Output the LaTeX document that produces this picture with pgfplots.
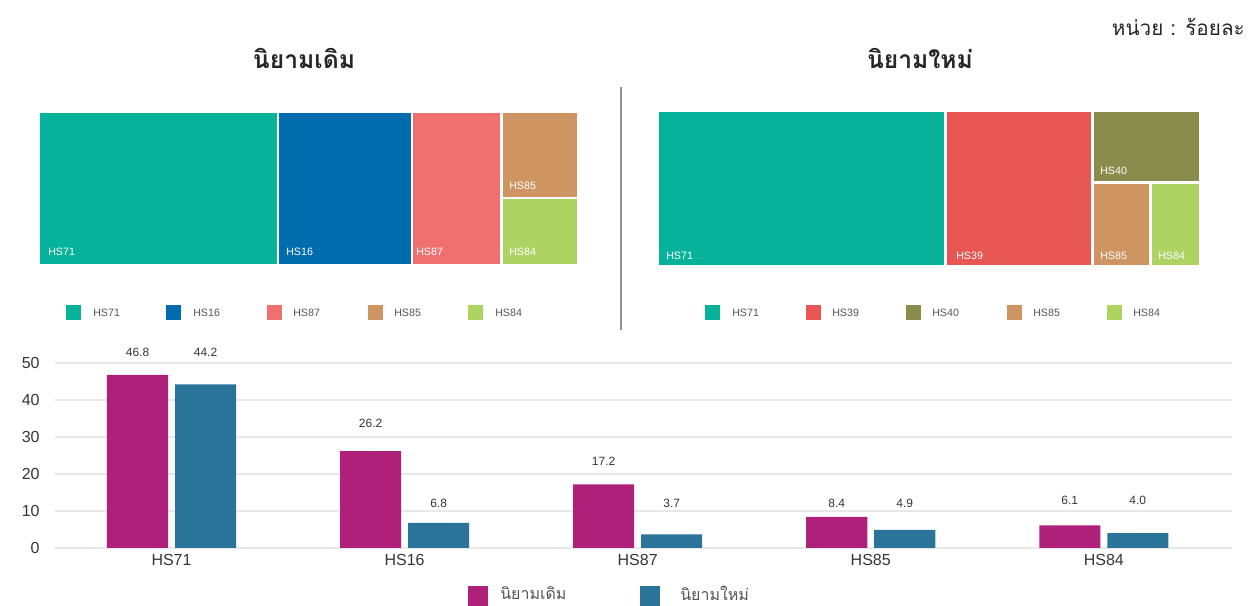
\documentclass[border=0pt]{standalone}
\usepackage{fontspec}
\setmainfont{Liberation Sans}
\newfontfamily\thaifont[Script=Thai]{Loma}
\usepackage{pgfplots}
\usepackage{pgfplotstable}
\pgfplotsset{compat=1.18}
\definecolor{cTeal}{HTML}{06B39A}
\definecolor{cBlue}{HTML}{006BAD}
\definecolor{cPink}{HTML}{F07070}
\definecolor{cTan}{HTML}{CE9563}
\definecolor{cLime}{HTML}{ADD363}
\definecolor{cRed}{HTML}{E85654}
\definecolor{cOlive}{HTML}{8A8C4C}
\definecolor{cMag}{HTML}{AE2079}
\definecolor{cSteel}{HTML}{2A7399}
\definecolor{gridc}{HTML}{E8E8E8}
\definecolor{txt}{HTML}{353535}
\definecolor{ltxt}{HTML}{555555}

% bar data: x, old-definition value, new-definition value, label heights (axis units)
\pgfplotstableread{
x old new lo ln
0 46.8 44.2 52.97 52.97
1 26.2 6.8 33.78 12.16
2 17.2 3.7 23.50 12.16
3 8.4 4.9 12.16 12.16
4 6.1 4.0 12.97 12.97
}\bardata

\begin{document}
\begin{tikzpicture}
% ---------- canvas (treemaps, titles, legends) in pixel units ----------
\begin{axis}[name=canvas, at={(0,0)}, anchor=south west, scale only axis,
  width=943.5pt, height=454.5pt, xmin=0, xmax=1258, ymin=0, ymax=606,
  y dir=reverse, hide axis, clip=false]
% left treemap
\addplot[draw=none, fill=cTeal, forget plot] coordinates {(40,113) (277,113) (277,264) (40,264)};
\addplot[draw=none, fill=cBlue, forget plot] coordinates {(279,113) (411,113) (411,264) (279,264)};
\addplot[draw=none, fill=cPink, forget plot] coordinates {(413,113) (500,113) (500,264) (413,264)};
\addplot[draw=none, fill=cTan, forget plot] coordinates {(503,113) (577,113) (577,197) (503,197)};
\addplot[draw=none, fill=cLime, forget plot] coordinates {(503,199) (577,199) (577,264) (503,264)};
% right treemap
\addplot[draw=none, fill=cTeal, forget plot] coordinates {(659,112) (944,112) (944,265) (659,265)};
\addplot[draw=none, fill=cRed, forget plot] coordinates {(947,112) (1091,112) (1091,265) (947,265)};
\addplot[draw=none, fill=cOlive, forget plot] coordinates {(1094,112) (1199,112) (1199,181) (1094,181)};
\addplot[draw=none, fill=cTan, forget plot] coordinates {(1094,184) (1149,184) (1149,265) (1094,265)};
\addplot[draw=none, fill=cLime, forget plot] coordinates {(1152,184) (1199,184) (1199,265) (1152,265)};
% divider
\addplot[color=gray!85, line width=0.9pt, forget plot] coordinates {(621,87) (621,330)};
% treemap labels
\begin{scope}[every node/.style={anchor=base west, text=white, font=\fontsize{8}{9}\selectfont, inner sep=0pt}]
\node at (axis cs:48,256) {HS71};
\node at (axis cs:286,256) {HS16};
\node at (axis cs:416,256) {HS87};
\node at (axis cs:509,190) {HS85};
\node at (axis cs:509,256) {HS84};
\node at (axis cs:666,260) {HS71};
\node at (axis cs:956,260) {HS39};
\node at (axis cs:1100,175) {HS40};
\node at (axis cs:1100,260) {HS85};
\node at (axis cs:1158,260) {HS84};
\end{scope}
% treemap legends
\addplot[draw=none, fill=cTeal, forget plot] coordinates {(66,305) (81,305) (81,320) (66,320)};
\addplot[draw=none, fill=cBlue, forget plot] coordinates {(166,305) (181,305) (181,320) (166,320)};
\addplot[draw=none, fill=cPink, forget plot] coordinates {(267,305) (282,305) (282,320) (267,320)};
\addplot[draw=none, fill=cTan, forget plot] coordinates {(368,305) (383,305) (383,320) (368,320)};
\addplot[draw=none, fill=cLime, forget plot] coordinates {(468,305) (483,305) (483,320) (468,320)};
\addplot[draw=none, fill=cTeal, forget plot] coordinates {(705,305) (720,305) (720,320) (705,320)};
\addplot[draw=none, fill=cRed, forget plot] coordinates {(806,305) (821,305) (821,320) (806,320)};
\addplot[draw=none, fill=cOlive, forget plot] coordinates {(906,305) (921,305) (921,320) (906,320)};
\addplot[draw=none, fill=cTan, forget plot] coordinates {(1007,305) (1022,305) (1022,320) (1007,320)};
\addplot[draw=none, fill=cLime, forget plot] coordinates {(1107,305) (1122,305) (1122,320) (1107,320)};
\begin{scope}[every node/.style={anchor=west, text=ltxt, font=\fontsize{8}{9}\selectfont, inner sep=0pt}]
\node at (axis cs:93,312.5) {HS71};
\node at (axis cs:193,312.5) {HS16};
\node at (axis cs:293,312.5) {HS87};
\node at (axis cs:394,312.5) {HS85};
\node at (axis cs:495,312.5) {HS84};
\node at (axis cs:732,312.5) {HS71};
\node at (axis cs:832,312.5) {HS39};
\node at (axis cs:932,312.5) {HS40};
\node at (axis cs:1033,312.5) {HS85};
\node at (axis cs:1133,312.5) {HS84};
\end{scope}
% titles
\node[font=\thaifont\bfseries\fontsize{18.5}{21}\selectfont, text=black!85] at (axis cs:304,58) {นิยามเดิม};
\node[font=\thaifont\bfseries\fontsize{18.5}{21}\selectfont, text=black!85] at (axis cs:920,58) {นิยามใหม่};
\node[anchor=east, inner sep=0pt, font=\thaifont\fontsize{15.5}{18}\selectfont, text=black!85] at (axis cs:1245,27) {หน่วย : ร้อยละ};
% bar-chart legend
\addplot[draw=none, fill=cMag, forget plot] coordinates {(468,586) (488,586) (488,606) (468,606)};
\addplot[draw=none, fill=cSteel, forget plot] coordinates {(640,586) (660,586) (660,606) (640,606)};
\node[anchor=west, inner sep=0pt, font=\thaifont\fontsize{12}{14}\selectfont, text=ltxt] at (axis cs:500,593) {นิยามเดิม};
\node[anchor=west, inner sep=0pt, font=\thaifont\fontsize{12}{14}\selectfont, text=ltxt] at (axis cs:680,593) {นิยามใหม่};
\end{axis}

% ---------- bar chart ----------
\begin{axis}[at={(41.25pt,43.5pt)}, anchor=south west, scale only axis,
  width=882.75pt, height=138.75pt,
  xmin=-0.5, xmax=4.55, ymin=0, ymax=50, clip=false,
  axis line style={draw=none}, major tick length=0pt,
  ymajorgrids, grid style={gridc, line width=1.2pt},
  ytick={0,10,20,30,40,50},
  xtick={0,1,2,3,4}, xticklabels={HS71,HS16,HS87,HS85,HS84},
  tick label style={font=\fontsize{12}{14}\selectfont, text=txt},
  /pgf/number format/assume math mode=true,
  yticklabel style={xshift=-8pt},
  xticklabel style={yshift=-1pt},
  every node near coord/.append style={anchor=center, font=\fontsize{9}{10}\selectfont, text=txt},
  nodes near coords={\pgfmathprintnumber[fixed,fixed zerofill,precision=1,assume math mode=true]{\pgfplotspointmeta}},
]
\addplot[ybar, bar width=0.262, bar shift=-0.146, fill=cMag, draw=none,
  visualization depends on={\thisrow{lo}-\thisrow{old} \as \dy},
  every node near coord/.append style={yshift={\dy*2.775}, xshift=-25.5pt}]
  table[x=x, y=old] {\bardata};
\addplot[ybar, bar width=0.262, bar shift=0.146, fill=cSteel, draw=none,
  visualization depends on={\thisrow{ln}-\thisrow{new} \as \dy},
  every node near coord/.append style={yshift={\dy*2.775}, xshift=25.5pt}]
  table[x=x, y=new] {\bardata};
\end{axis}
\pgfresetboundingbox
\path[use as bounding box] (0,0) rectangle (943.5pt,454.5pt);
\end{tikzpicture}
\end{document}
